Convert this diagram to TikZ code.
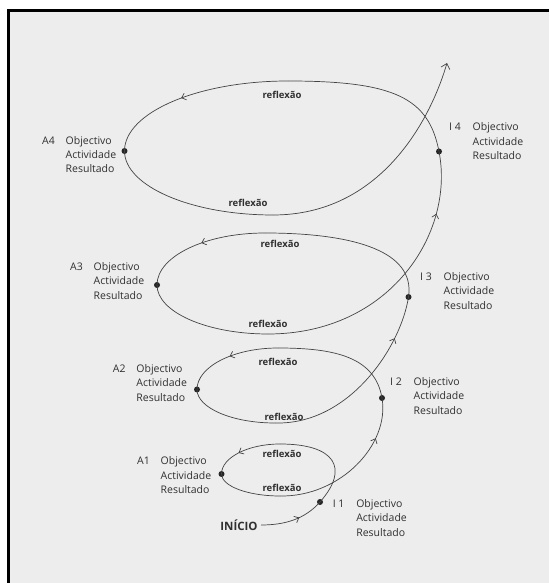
\documentclass[tikz,border=0pt]{standalone}
\usepackage{fontspec}
\setmainfont{Open Sans}
\usetikzlibrary{arrows.meta,decorations.markings}

\definecolor{paper}{HTML}{EDEDED}
\definecolor{ink}{HTML}{444444}
\definecolor{txt}{HTML}{303030}

\newcommand{\etapa}[1]{\begin{tabular}[t]{@{}l@{}l@{}}\makebox[23.5pt][l]{#1} & Objectivo\\ & Actividade\\ & Resultado\end{tabular}}

\tikzset{
  spiral/.style={draw=ink, line width=0.7pt},
  midarrow/.style={postaction={decorate}, decoration={markings,
      mark=at position #1 with {\arrow{Straight Barb[length=4pt,width=7pt]}}}},
  dot/.style={circle, fill=black!85, inner sep=0pt, minimum size=6pt},
  lbl/.style={anchor=base west, inner sep=0pt, text=txt, font=\fontsize{10.5}{14.4}\selectfont},
  refl/.style={inner sep=0pt, text=txt, font=\fontsize{9.5}{11}\selectfont\bfseries},
}

\begin{document}
\begin{tikzpicture}[x=1pt, y=1pt]
  \useasboundingbox (0,0) rectangle (549,583);
  \fill[paper] (10,0) rectangle (549,570.5);
  \fill[black] (6.7,0) rectangle (10,573.5);
  \fill[black] (6.7,570.5) rectangle (549,573.5);

  \node[dot] (i1) at (320,81) {};
  \node[dot] (a1) at (221.5,109) {};
  \node[dot] (i2) at (382,185) {};
  \node[dot] (a2) at (197,193.5) {};
  \node[dot] (i3) at (408.5,286) {};
  \node[dot] (a3) at (157,298) {};
  \node[dot] (i4) at (439,431.5) {};
  \node[dot] (a4) at (124.5,432) {};
  \coordinate (t1) at (280,139); \coordinate (b1) at (280,87);
  \coordinate (t2) at (278,235); \coordinate (b2) at (275,160);
  \coordinate (t3) at (265,350); \coordinate (b3) at (268,249);
  \coordinate (t4) at (288,502); \coordinate (b4) at (273,368);
  \coordinate (tip) at (447,520);

  \node[font=\fontsize{11.5}{12}\selectfont\bfseries, text=txt] (inicio) at (239,58) {INÍCIO};
  \draw[spiral, midarrow=0.6] (inicio.east) .. controls (285,58) and (305,64) .. (i1.center);

  % ciclo 1
  \draw[spiral] (i1.center) .. controls (350,115) and (335,139) .. (t1);
  \draw[spiral, midarrow=0.6] (t1) .. controls (248,139) and (221.5,125.5) .. (a1.center);
  \draw[spiral] (a1.center) .. controls (221.5,96.9) and (247.8,87) .. (b1);
  \draw[spiral, midarrow=0.74] (b1) .. controls (340,86) and (390,138) .. (i2.center);
  % ciclo 2
  \draw[spiral] (i2.center) .. controls (375,226) and (335,235) .. (t2);
  \draw[spiral, midarrow=0.5] (t2) .. controls (233.4,235) and (197,216.3) .. (a2.center);
  \draw[spiral] (a2.center) .. controls (197,175.1) and (232.1,160) .. (b2);
  \draw[spiral, midarrow=0.78] (b2) .. controls (350,158) and (401,237) .. (i3.center);
  % ciclo 3
  \draw[spiral] (i3.center) .. controls (416,335) and (345,350) .. (t3);
  \draw[spiral, midarrow=0.5] (t3) .. controls (205.4,350) and (157,326.7) .. (a3.center);
  \draw[spiral] (a3.center) .. controls (157,271) and (206.7,249) .. (b3);
  \draw[spiral, midarrow=0.78] (b3) .. controls (390,249) and (455,350) .. (i4.center);
  % ciclo 4
  \draw[spiral] (i4.center) .. controls (428.7,485) and (395,502) .. (t4);
  \draw[spiral, midarrow=0.57] (t4) .. controls (198,502) and (124.5,470.6) .. (a4.center);
  \draw[spiral] (a4.center) .. controls (124.5,396.8) and (191.3,368) .. (b4);
  \draw[spiral, -{Straight Barb[length=5pt,width=9pt]}] (b4) .. controls (380,368) and (430,462) .. (tip);

  \node[lbl] (li1) at (332.6,75.4) {\etapa{I 1}};
  \node[lbl] (li2) at (390,197.4) {\etapa{I 2}};
  \node[lbl] (li3) at (420,302.4) {\etapa{I 3}};
  \node[lbl] (li4) at (449,452) {\etapa{I 4}};
  \node[lbl] (la1) at (137,118) {\etapa{A1}};
  \node[lbl] (la2) at (112.7,210.4) {\etapa{A2}};
  \node[lbl] (la3) at (70,312.4) {\etapa{A3}};
  \node[lbl] (la4) at (42,438.8) {\etapa{A4}};

  \node[refl] (r1t) at (282,129.5) {reflexão};
  \node[refl] (r1b) at (282,95.5) {reflexão};
  \node[refl] (r2t) at (278,221) {reflexão};
  \node[refl] (r2b) at (284,166.5) {reflexão};
  \node[refl] (r3t) at (280,339.4) {reflexão};
  \node[refl] (r3b) at (268,259.5) {reflexão};
  \node[refl] (r4t) at (282,488) {reflexão};
  \node[refl] (r4b) at (248,379.7) {reflexão};
\end{tikzpicture}
\end{document}
